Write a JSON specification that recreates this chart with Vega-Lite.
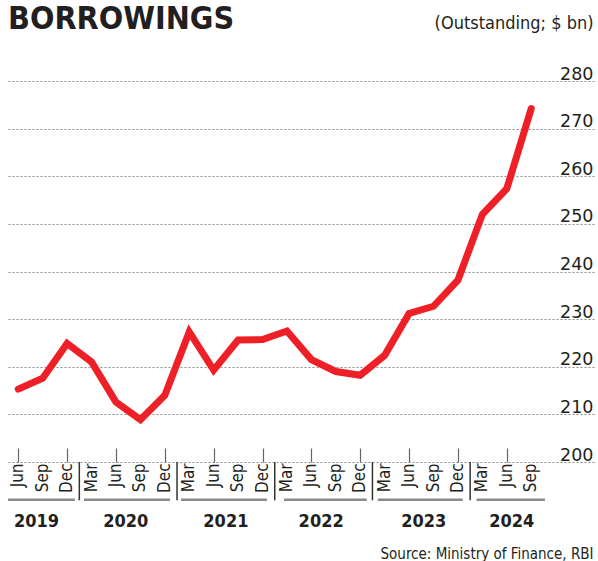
{
  "$schema": "https://vega.github.io/schema/vega-lite/v6.json",
  "autosize": {"type": "none"},
  "width": 586,
  "height": 381,
  "padding": {"left": 8, "top": 81, "right": 4, "bottom": 99},
  "background": "white",
  "title": {
    "text": "BORROWINGS",
    "anchor": "start",
    "frame": "group",
    "font": "'DejaVu Sans Condensed', 'Liberation Sans', sans-serif",
    "fontSize": 32,
    "fontWeight": "bold",
    "color": "#231f20",
    "offset": 4,
    "dy": 26
  },
  "config": {
    "view": {"stroke": null},
    "font": "'DejaVu Sans Condensed', 'Liberation Sans', sans-serif"
  },
  "datasets": {
    "series": [
      {"i": 0, "m": "Jun", "q": "Jun 2019", "v": 215.3},
      {"i": 1, "m": "Sep", "q": "Sep 2019", "v": 217.6},
      {"i": 2, "m": "Dec", "q": "Dec 2019", "v": 224.9},
      {"i": 3, "m": "Mar", "q": "Mar 2020", "v": 221.0},
      {"i": 4, "m": "Jun", "q": "Jun 2020", "v": 212.6},
      {"i": 5, "m": "Sep", "q": "Sep 2020", "v": 208.9},
      {"i": 6, "m": "Dec", "q": "Dec 2020", "v": 214.0},
      {"i": 7, "m": "Mar", "q": "Mar 2021", "v": 227.3},
      {"i": 8, "m": "Jun", "q": "Jun 2021", "v": 219.3},
      {"i": 9, "m": "Sep", "q": "Sep 2021", "v": 225.6},
      {"i": 10, "m": "Dec", "q": "Dec 2021", "v": 225.7},
      {"i": 11, "m": "Mar", "q": "Mar 2022", "v": 227.5},
      {"i": 12, "m": "Jun", "q": "Jun 2022", "v": 221.5},
      {"i": 13, "m": "Sep", "q": "Sep 2022", "v": 219.0},
      {"i": 14, "m": "Dec", "q": "Dec 2022", "v": 218.2},
      {"i": 15, "m": "Mar", "q": "Mar 2023", "v": 222.4},
      {"i": 16, "m": "Jun", "q": "Jun 2023", "v": 231.2},
      {"i": 17, "m": "Sep", "q": "Sep 2023", "v": 232.7},
      {"i": 18, "m": "Dec", "q": "Dec 2023", "v": 238.2},
      {"i": 19, "m": "Mar", "q": "Mar 2024", "v": 252.0},
      {"i": 20, "m": "Jun", "q": "Jun 2024", "v": 257.4},
      {"i": 21, "m": "Sep", "q": "Sep 2024", "v": 274.2}
    ],
    "years": [
      {"year": "2019", "start": -0.42, "end": 2.32, "mid": 0.75},
      {"year": "2020", "start": 2.69, "end": 6.21, "mid": 4.4},
      {"year": "2021", "start": 6.66, "end": 10.18, "mid": 8.5},
      {"year": "2022", "start": 10.88, "end": 14.27, "mid": 12.4},
      {"year": "2023", "start": 14.72, "end": 18.2, "mid": 16.6},
      {"year": "2024", "start": 18.76, "end": 21.56, "mid": 20.2}
    ],
    "seps": [
      {"s": 2.5}, {"s": 6.5}, {"s": 10.5}, {"s": 14.5}, {"s": 18.5}
    ]
  },
  "layer": [
    {
      "data": {"name": "series"},
      "mark": {"type": "line", "color": "#EE1F26", "strokeWidth": 7, "strokeCap": "round", "strokeJoin": "miter"},
      "encoding": {
        "x": {
          "field": "i", "type": "quantitative",
          "scale": {"domain": [-0.42, 23.57], "nice": false, "zero": false},
          "axis": {
            "orient": "bottom",
            "values": [0,1,2,3,4,5,6,7,8,9,10,11,12,13,14,15,16,17,18,19,20,21],
            "labels": false,
            "tickSize": -14,
            "tickColor": "#666666",
            "tickWidth": 1.2,
            "domain": false,
            "grid": false,
            "title": "Source: Ministry of Finance, RBI",
            "titleFontSize": 15,
            "titleFontWeight": "normal",
            "titleColor": "#231f20",
            "titleAlign": "right",
            "titleAnchor": null,
            "titleBaseline": "alphabetic",
            "titleX": 585,
            "titleY": 96
          }
        },
        "y": {
          "field": "v", "type": "quantitative",
          "scale": {"domain": [200, 280], "nice": false, "zero": false},
          "axis": {
            "orient": "right",
            "values": [200,210,220,230,240,250,260,270,280],
            "grid": true,
            "gridDash": [2, 2],
            "gridColor": "#8c8c8c",
            "gridWidth": 1.2,
            "domain": false,
            "ticks": false,
            "labelAlign": "right",
            "labelBaseline": "alphabetic",
            "labelPadding": -1,
            "labelOffset": -2,
            "labelFont": "DejaVu Sans",
            "labelFontSize": 17.5,
            "labelColor": "#231f20",
            "title": "(Outstanding; $ bn)",
            "titleAngle": 0,
            "titleAlign": "right",
            "titleBaseline": "alphabetic",
            "titleFontSize": 18,
            "titleFontWeight": "normal",
            "titleColor": "#231f20",
            "titleX": -1,
            "titleY": -53
          }
        }
      }
    },
    {
      "data": {"name": "series"},
      "mark": {"type": "text", "angle": 270, "align": "right", "baseline": "middle", "fontSize": 17, "color": "#231f20"},
      "encoding": {
        "x": {"field": "i", "type": "quantitative"},
        "y": {"datum": 199.7, "type": "quantitative"},
        "text": {"field": "m"}
      }
    },
    {
      "data": {"name": "years"},
      "mark": {"type": "rule", "color": "#8a8a8a", "strokeWidth": 2.5},
      "encoding": {
        "x": {"field": "start", "type": "quantitative"},
        "x2": {"field": "end"},
        "y": {"datum": 192.06, "type": "quantitative"}
      }
    },
    {
      "data": {"name": "seps"},
      "mark": {"type": "rule", "color": "#333333", "strokeWidth": 1.5},
      "encoding": {
        "x": {"field": "s", "type": "quantitative"},
        "y": {"datum": 200, "type": "quantitative"},
        "y2": {"datum": 191.96}
      }
    },
    {
      "data": {"name": "years"},
      "mark": {"type": "text", "fontSize": 18, "fontWeight": "bold", "font": "'DejaVu Sans Condensed', sans-serif", "color": "#231f20", "baseline": "alphabetic", "align": "center"},
      "encoding": {
        "x": {"field": "mid", "type": "quantitative"},
        "y": {"datum": 186.3, "type": "quantitative"},
        "text": {"field": "year"}
      }
    }
  ]
}
